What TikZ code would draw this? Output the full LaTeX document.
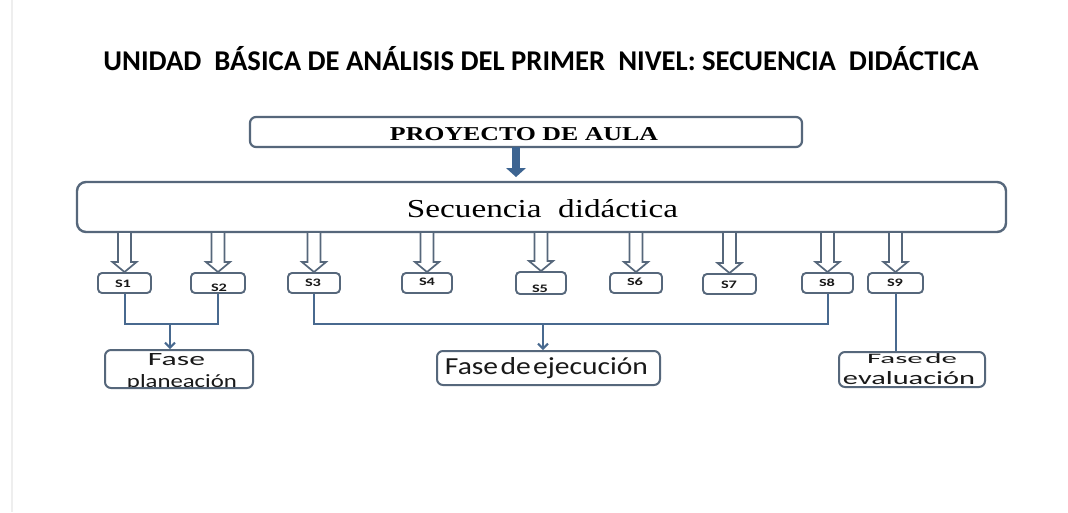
\documentclass[tikz,border=0pt]{standalone}
\usepackage{fontspec}
\setmainfont{Liberation Serif}
\newfontfamily\carlito{Carlito}
\usetikzlibrary{calc,arrows.meta}
\definecolor{boxcol}{HTML}{56677B}
\definecolor{linecol}{HTML}{48698F}
\definecolor{arrowfill}{HTML}{3D6491}
\definecolor{edgegray}{HTML}{EEEEEE}
\newcommand\tight[1]{{\spaceskip=0.08em\relax #1}}
\tikzset{
  bigbox/.style={draw=boxcol, line width=2.2pt, rounded corners=6pt, fill=white, inner sep=0pt},
  sbox/.style={draw=boxcol, line width=1.9pt, rounded corners=4pt, fill=white, inner sep=0pt, minimum height=20pt},
  slabel/.style={font=\carlito\bfseries, inner sep=0pt, text=black!90},
  phase/.style={draw=boxcol, line width=2pt, rounded corners=6pt, fill=white, inner sep=0pt},
  phtext/.style={font=\carlito, inner sep=0pt, anchor=base, text=black!90},
  hollow/.style={draw=boxcol, line width=1.7pt, fill=white, line join=miter},
  conn/.style={draw=linecol, line width=2pt},
  tip/.style={-{Straight Barb[length=5pt,width=10pt]}},
}
\newcommand\hollowarr[2]{\draw[hollow] let \p1=(#1), \p2=(#2) in
  (\x1-6.5pt,\y1) -- (\x1-6.5pt,\y2+10pt) -- (\x1-12pt,\y2+10pt) -- (\x1,\y2)
  -- (\x1+12pt,\y2+10pt) -- (\x1+6.5pt,\y2+10pt) -- (\x1+6.5pt,\y1);}
\begin{document}
\begin{tikzpicture}[x=1pt,y=-1pt]
\useasboundingbox[fill=white] (0,0) rectangle (1068,512);
\draw[edgegray, line width=1.5pt] (12,0) -- (12,512);

% title
\node[inner sep=0pt, anchor=base] (title) at (541,70)
  {\resizebox{875pt}{!}{\carlito\bfseries UNIDAD\ \ BÁSICA DE ANÁLISIS DEL PRIMER\ \ NIVEL: SECUENCIA\ \ DIDÁCTICA}};

% main boxes
\node[bigbox, minimum width=552pt, minimum height=30pt] (proj) at (526,132) {};
\node[inner sep=0pt, anchor=base] (projt) at (524,140)
  {\resizebox{268pt}{13pt}{\bfseries PROYECTO DE AULA}};
\node[bigbox, line width=2.4pt, rounded corners=9pt, minimum width=929pt, minimum height=50pt] (sec) at (541.5,207) {};
\node[inner sep=0pt, anchor=base] (sect) at (542.5,217)
  {\resizebox{271pt}{18pt}{Secuencia\ \ didáctica}};

% thick arrow
\coordinate (ta) at (516,147);
\coordinate (tb) at (516,177);
\fill[arrowfill] let \p1=(ta), \p2=(tb) in
  (\x1-3.8pt,\y1) -- (\x1-3.8pt,\y2+9pt) -- (\x1-10pt,\y2+9pt) -- (\x2,\y2)
  -- (\x1+10pt,\y2+9pt) -- (\x1+3.8pt,\y2+9pt) -- (\x1+3.8pt,\y1) -- cycle;

% S boxes
\node[sbox, minimum width=53pt] (s1) at (124.5,283) {};
\node[sbox, minimum width=54pt] (s2) at (218,283) {};
\node[sbox, minimum width=52pt] (s3) at (314,283) {};
\node[sbox, minimum width=50pt] (s4) at (427,283) {};
\node[sbox, minimum width=50pt, minimum height=22pt] (s5) at (541,283) {};
\node[sbox, minimum width=52pt] (s6) at (636,283) {};
\node[sbox, minimum width=53pt] (s7) at (729.5,284) {};
\node[sbox, minimum width=51pt] (s8) at (827.5,283) {};
\node[sbox, minimum width=55pt] (s9) at (895.5,283) {};

\node[slabel] (l1) at (123,284) {\resizebox{16pt}{7.5pt}{S1}};
\node[slabel] (l2) at (219,288) {\resizebox{16pt}{7.5pt}{S2}};
\node[slabel] (l3) at (313,283) {\resizebox{16pt}{7.5pt}{S3}};
\node[slabel] (l4) at (427,282) {\resizebox{16pt}{7.5pt}{S4}};
\node[slabel] (l5) at (540,289) {\resizebox{16pt}{7.5pt}{S5}};
\node[slabel] (l6) at (635,282) {\resizebox{16pt}{7.5pt}{S6}};
\node[slabel] (l7) at (729,285) {\resizebox{16pt}{7.5pt}{S7}};
\node[slabel] (l8) at (827,283) {\resizebox{16pt}{7.5pt}{S8}};
\node[slabel] (l9) at (895,283) {\resizebox{16pt}{7.5pt}{S9}};

% hollow arrows
\foreach \s in {s1,s2,s3,s4,s5,s6,s7,s8,s9}{\hollowarr{sec.south -| \s.north}{\s.north}}

% phase boxes
\node[phase, minimum width=148pt, minimum height=38pt, path picture={
  \node[phtext] at ($(path picture bounding box.center)+(-2.5,-4)$) {\resizebox{57pt}{12pt}{Fase}};
  \node[phtext] at ($(path picture bounding box.center)+(3,18)$) {\resizebox{110pt}{13pt}{planeación}};
}] (fp) at (179,369) {};
\node[phase, minimum width=223pt, minimum height=34pt] (fe) at (548.5,368) {};
\node[phtext] (fet) at (546.5,374) {\resizebox{203pt}{17pt}{\tight{Fase de ejecución}}};
\node[phase, minimum width=146pt, minimum height=35pt, path picture={
  \node[phtext] at ($(path picture bounding box.center)+(0,-6.5)$) {\resizebox{90pt}{10pt}{\tight{Fase de}}};
  \node[phtext] at ($(path picture bounding box.center)+(-3,14.5)$) {\resizebox{132pt}{13pt}{evaluación}};
}] (fv) at (912,369.5) {};

% connectors
\coordinate (j1) at (170,324);
\coordinate (j2) at (543,324);
\draw[conn] (s1.south) |- (j1) -| (s2.south);
\draw[conn, tip] (j1) -- (j1 |- fp.north);
\draw[conn] (s3.south) |- (j2) -| (s8.south);
\draw[conn, tip] (j2) -- (j2 |- fe.north);
\draw[conn] (s9.south) -- (s9.south |- fv.north);
\end{tikzpicture}
\end{document}
